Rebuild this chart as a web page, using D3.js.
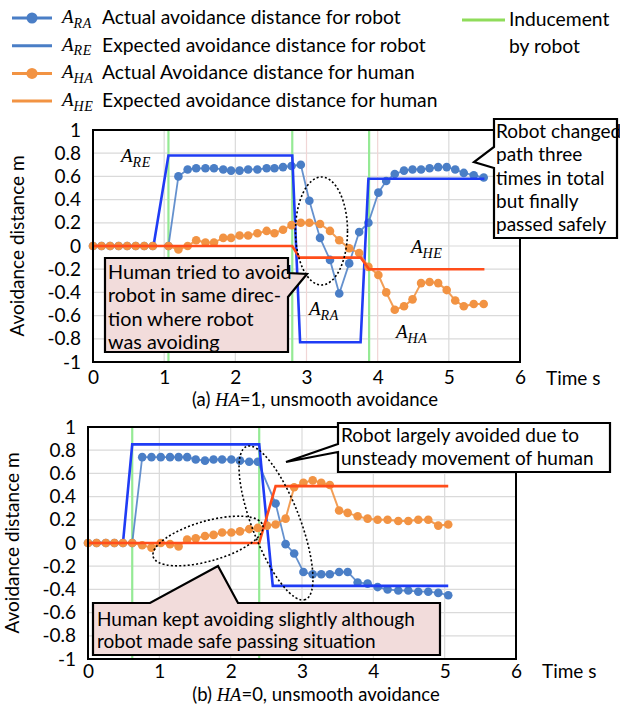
<!DOCTYPE html>
<html><head><meta charset="utf-8">
<script src="https://cdn.jsdelivr.net/npm/d3@7/dist/d3.min.js"></script>
<style>body{margin:0;background:#fff}svg{display:block}</style>
</head><body>
<script>
// ---------- data: (a) HA=1 ----------
const timeA = [0,0.12,0.24,0.36,0.48,0.60,0.72,0.84,1.06,1.20,1.33,1.45,1.58,1.70,1.83,1.94,2.06,2.18,2.31,2.44,2.55,2.67,2.79,2.92,3.04,3.19,3.33,3.46,3.60,3.74,3.87,4.01,4.12,4.24,4.37,4.49,4.61,4.73,4.85,4.97,5.09,5.21,5.35,5.49];
const robotActualA = [0,0,0,0,0,0,0,0,0,0.60,0.66,0.67,0.67,0.67,0.66,0.65,0.65,0.66,0.66,0.67,0.67,0.68,0.69,0.70,0.39,0.07,-0.12,-0.41,-0.15,0.12,0.20,0.46,0.56,0.62,0.65,0.66,0.66,0.67,0.68,0.68,0.66,0.63,0.61,0.59];
const humanActualA = [0,0,0,0,0,0,0,0,0,-0.03,0.00,0.05,0.03,0.03,0.07,0.07,0.09,0.09,0.11,0.13,0.11,0.14,0.18,0.20,0.20,0.19,0.13,0.05,-0.02,-0.06,-0.18,-0.25,-0.40,-0.55,-0.52,-0.46,-0.32,-0.31,-0.32,-0.38,-0.47,-0.52,-0.50,-0.50];
const robotExpTimeA = [0,0.85,1.06,2.80,2.91,3.76,3.87,5.50];
const robotExpA = [0,0,0.78,0.78,-0.83,-0.83,0.58,0.58];
const humanExpTimeA = [0,2.80,2.90,3.76,3.88,5.50];
const humanExpA = [0,0,-0.10,-0.10,-0.20,-0.20];
const inducementA = [1.06,2.80,3.88];

// ---------- data: (b) HA=0 ----------
// null = no robot sample at that instant
const timeB = [0,0.12,0.25,0.37,0.49,0.62,0.76,0.89,1.02,1.15,1.27,1.39,1.51,1.64,1.76,1.88,2.01,2.13,2.26,2.38,2.51,2.63,2.77,2.89,3.02,3.15,3.27,3.39,3.52,3.64,3.78,3.92,4.06,4.20,4.35,4.49,4.63,4.77,4.91,5.05];
const robotActualB = [0,0,0,0,0,0,0.74,0.74,0.74,0.74,0.74,0.74,0.72,0.71,0.72,0.72,0.72,0.71,0.70,0.70,null,0.34,-0.01,-0.09,-0.25,-0.27,-0.27,-0.27,-0.25,-0.25,-0.34,-0.35,-0.38,-0.40,-0.41,-0.41,-0.42,-0.42,-0.43,-0.45];
const humanActualB = [0,0,0,0,0,0,-0.02,-0.04,0.00,-0.01,-0.03,0.03,0.04,0.06,0.07,0.09,0.09,0.10,0.12,0.13,0.15,0.16,0.21,0.48,0.52,0.54,0.52,0.50,0.28,0.26,0.23,0.21,0.20,0.20,0.19,0.19,0.20,0.20,0.15,0.16];
const robotExpTimeB = [0,0.49,0.62,2.40,2.59,5.05];
const robotExpB = [0,0,0.85,0.85,-0.37,-0.37];
const humanExpTimeB = [0,2.40,2.63,5.05];
const humanExpB = [0,0,0.49,0.49];
const inducementB = [0.62,2.40];

// ---------- axes ----------
const xTicks = [0,1,2,3,4,5,6];
const yTicks = [1,0.8,0.6,0.4,0.2,0,-0.2,-0.4,-0.6,-0.8,-1];
const yAxisTitle = "Avoidance distance m";
const xAxisTitle = "Time s";

// ---------- styles ----------
const C = {
  robotActual: "#4a7ec6",
  robotExp: "#1f3cf5",
  humanActual: "#f29343",
  humanExp: "#ff4d1a",
  inducement: "#95ea95",
  grid: "#dadada",
  calloutPink: "#f2dcdb"
};
const FONT = "Lato, 'Open Sans', sans-serif";
const SERIF = "'Liberation Serif', 'DejaVu Serif', serif";

const W = 620, H = 707;
const svg = d3.select("body").append("svg").attr("width", W).attr("height", H)
  .style("font-family", FONT);

// math-style label: italic A with a subscript
function mathLabel(g, x, y, main, sub, size) {
  const t = g.append("text").attr("x", x).attr("y", y)
    .attr("font-family", SERIF).attr("font-style", "italic").attr("font-size", size).attr("fill", "#000");
  t.append("tspan").text(main);
  t.append("tspan").attr("dy", size * 0.24).attr("font-size", size * 0.74).attr("letter-spacing", 0.6).text(sub);
  return t;
}

function pairs(times, values) {
  return times.map((t, i) => [t, values[i]]).filter(d => d[1] !== null);
}

function drawPanel(cfg) {
  const x = d3.scaleLinear().domain([0, 6]).range([cfg.left, cfg.right]);
  const y = d3.scaleLinear().domain([-1, 1]).range([cfg.bottom, cfg.top]);
  const g = svg.append("g");

  // grid
  g.append("g").selectAll("line").data(yTicks).join("line")
    .attr("x1", cfg.left).attr("x2", cfg.right)
    .attr("y1", d => y(d)).attr("y2", d => y(d))
    .attr("stroke", C.grid).attr("stroke-width", 1.2);
  g.append("g").selectAll("line").data(xTicks).join("line")
    .attr("x1", d => x(d)).attr("x2", d => x(d))
    .attr("y1", cfg.top).attr("y2", cfg.bottom)
    .attr("stroke", d => (cfg.pinkGrid && cfg.pinkGrid.includes(d)) ? "#f1d6d6" : C.grid)
    .attr("stroke-width", 1.2);

  // inducement markers
  g.append("g").selectAll("line").data(cfg.inducement).join("line")
    .attr("x1", d => x(d)).attr("x2", d => x(d))
    .attr("y1", cfg.top).attr("y2", cfg.bottom)
    .attr("stroke", C.inducement).attr("stroke-width", 2.2);

  const line = d3.line().x(d => x(d[0])).y(d => y(d[1]));

  // robot actual
  const ra = pairs(cfg.time, cfg.robotActual);
  g.append("path").attr("d", line(ra)).attr("fill", "none")
    .attr("stroke", C.robotActual).attr("stroke-width", 1.8).attr("stroke-opacity", 0.85);
  g.append("g").selectAll("circle").data(ra).join("circle")
    .attr("cx", d => x(d[0])).attr("cy", d => y(d[1])).attr("r", 4.3)
    .attr("fill", C.robotActual);

  // robot expected
  const re = pairs(cfg.robotExpTime, cfg.robotExp);
  g.append("path").attr("d", line(re)).attr("fill", "none")
    .attr("stroke", C.robotExp).attr("stroke-width", 2.6);

  // human actual
  const ha = pairs(cfg.time, cfg.humanActual);
  g.append("path").attr("d", line(ha)).attr("fill", "none")
    .attr("stroke", C.humanActual).attr("stroke-width", 2).attr("stroke-opacity", 0.9);
  g.append("g").selectAll("circle").data(ha).join("circle")
    .attr("cx", d => x(d[0])).attr("cy", d => y(d[1])).attr("r", 4.3)
    .attr("fill", C.humanActual);

  // human expected
  const he = pairs(cfg.humanExpTime, cfg.humanExp);
  g.append("path").attr("d", line(he)).attr("fill", "none")
    .attr("stroke", C.humanExp).attr("stroke-width", 2.6);

  // frame
  g.append("rect").attr("x", cfg.left).attr("y", cfg.top)
    .attr("width", cfg.right - cfg.left).attr("height", cfg.bottom - cfg.top)
    .attr("fill", "none").attr("stroke", "#000").attr("stroke-width", 2);

  // y axis labels
  const yAxis = d3.axisLeft(y).tickValues(yTicks).tickSize(0).tickPadding(12)
    .tickFormat(d => String(+d.toFixed(1)));
  const ya = g.append("g").attr("transform", `translate(${cfg.left},0)`).call(yAxis);
  ya.select(".domain").remove();
  ya.selectAll("text").attr("font-family", FONT).attr("font-size", 19).attr("fill", "#000");

  // x axis labels
  const xAxis = d3.axisBottom(x).tickValues(xTicks).tickSize(0).tickPadding(cfg.xPad)
    .tickFormat(d3.format("d"));
  const xa = g.append("g").attr("transform", `translate(0,${cfg.bottom})`).call(xAxis);
  xa.select(".domain").remove();
  xa.selectAll("text").attr("font-family", FONT).attr("font-size", 19).attr("fill", "#000");

  g.append("text").attr("x", cfg.right + 26).attr("y", cfg.bottom + cfg.xPad + 14)
    .attr("font-size", 19).text(xAxisTitle);

  g.append("text")
    .attr("transform", `translate(${cfg.left - 69},${(cfg.top + cfg.bottom) / 2}) rotate(-90)`)
    .attr("text-anchor", "middle").attr("font-size", 19).text(yAxisTitle);

  // caption
  const cap = g.append("text").attr("x", cfg.captionX).attr("y", cfg.captionY)
    .attr("text-anchor", "middle").attr("font-size", 18.5);
  cap.append("tspan").text(cfg.captionPre);
  cap.append("tspan").attr("font-family", SERIF).attr("font-style", "italic").text("HA");
  cap.append("tspan").text(cfg.captionPost);

  return { g, x, y };
}

// callout box with pointer; outline given as polygon points
function callout(points, lines, tx, ty, lh, fill, size) {
  const g = svg.append("g");
  g.append("path").attr("d", "M" + points.map(p => p.join(",")).join("L") + "Z")
    .attr("fill", fill).attr("stroke", "#000").attr("stroke-width", 2.2)
    .attr("stroke-linejoin", "miter");
  g.selectAll("text").data(lines).join("text")
    .attr("x", tx).attr("y", (d, i) => ty + i * lh)
    .attr("font-size", size).attr("fill", "#000").text(d => d);
}

// ---------- legend ----------
const legend = svg.append("g");
const legendRows = [
  { sub: "RA", text: "Actual avoidance distance for robot", color: C.robotActual, dot: true },
  { sub: "RE", text: "Expected avoidance distance for robot", color: C.robotActual, dot: false },
  { sub: "HA", text: "Actual Avoidance distance for human", color: C.humanActual, dot: true },
  { sub: "HE", text: "Expected avoidance distance for human", color: C.humanActual, dot: false }
];
legendRows.forEach((r, i) => {
  const cy = 18 + i * 27.7;
  legend.append("line").attr("x1", 12).attr("x2", 52).attr("y1", cy).attr("y2", cy)
    .attr("stroke", r.color).attr("stroke-width", 3);
  if (r.dot) legend.append("circle").attr("cx", 32).attr("cy", cy).attr("r", 5.5).attr("fill", r.color);
  mathLabel(legend, 62, cy + 5, "A", r.sub, 19);
  legend.append("text").attr("x", 102).attr("y", cy + 6).attr("font-size", 19.3).text(r.text);
});
legend.append("line").attr("x1", 462).attr("x2", 505).attr("y1", 20).attr("y2", 20)
  .attr("stroke", "#8fdc5a").attr("stroke-width", 3);
legend.append("text").attr("x", 509).attr("y", 26).attr("font-size", 19.3).text("Inducement");
legend.append("text").attr("x", 509).attr("y", 53).attr("font-size", 19.3).text("by robot");

// ---------- panel (a) ----------
const pa = drawPanel({
  left: 93, right: 520, top: 130, bottom: 362, xPad: 9,
  time: timeA, robotActual: robotActualA, humanActual: humanActualA,
  robotExpTime: robotExpTimeA, robotExp: robotExpA,
  humanExpTime: humanExpTimeA, humanExp: humanExpA,
  inducement: inducementA, pinkGrid: [3, 4],
  captionX: 315, captionY: 406, captionPre: "(a) ", captionPost: "=1, unsmooth avoidance"
});
mathLabel(pa.g, 121, 162, "A", "RE", 19);
mathLabel(pa.g, 309, 315, "A", "RA", 19);
mathLabel(pa.g, 411, 253, "A", "HE", 19);
mathLabel(pa.g, 396, 338, "A", "HA", 19);
pa.g.append("ellipse").attr("cx", 321.5).attr("cy", 231).attr("rx", 26).attr("ry", 54)
  .attr("fill", "none").attr("stroke", "#000").attr("stroke-width", 1.6).attr("stroke-dasharray", "2,2.2");

callout([[105,258],[288,258],[288,273],[307,274],[288,297],[288,352],[105,352]],
  ["Human tried to avoid", "robot in same direc-", "tion where robot", "was avoiding"],
  108, 279, 23.3, C.calloutPink, 19.8);
callout([[494,119],[617,119],[617,238],[494,238],[494,168],[474,162],[494,147]],
  ["Robot changed", "path three", "times in total", "but finally", "passed safely"],
  496, 138, 23.3, "#fff", 19);

// ---------- panel (b) ----------
const pb = drawPanel({
  left: 88, right: 516, top: 427, bottom: 659, xPad: 5,
  time: timeB, robotActual: robotActualB, humanActual: humanActualB,
  robotExpTime: robotExpTimeB, robotExp: robotExpB,
  humanExpTime: humanExpTimeB, humanExp: humanExpB,
  inducement: inducementB,
  captionX: 316, captionY: 701, captionPre: "(b) ", captionPost: "=0, unsmooth avoidance"
});
pb.g.append("ellipse").attr("transform", "translate(276,523) rotate(69)")
  .attr("rx", 82).attr("ry", 24)
  .attr("fill", "none").attr("stroke", "#000").attr("stroke-width", 1.6).attr("stroke-dasharray", "2,2.2");
pb.g.append("ellipse").attr("transform", "translate(208,541) rotate(-16)")
  .attr("rx", 57).attr("ry", 20)
  .attr("fill", "none").attr("stroke", "#000").attr("stroke-width", 1.6).attr("stroke-dasharray", "2,2.2");

callout([[338,423],[610,423],[610,472],[338,472],[338,452],[286,462],[338,444]],
  ["Robot largely avoided due to", "unsteady movement of human"],
  341, 442, 23.3, "#fff", 19);
callout([[93,603],[150,603],[218,566],[238,603],[440,603],[440,655],[93,655]],
  ["Human kept avoiding slightly although", "robot made safe passing situation"],
  97, 626, 22, C.calloutPink, 19);
</script>
</body></html>
